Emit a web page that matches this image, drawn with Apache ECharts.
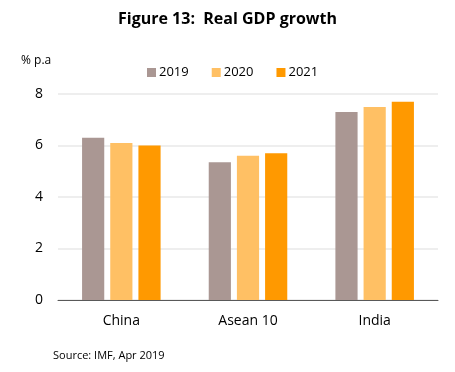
<!DOCTYPE html>
<html><head><meta charset="utf-8">
<script src="https://cdn.jsdelivr.net/npm/echarts@6/dist/echarts.min.js"></script>
<style>html,body{margin:0;padding:0;background:#fff}#c{width:455px;height:372px}</style>
</head><body><div id="c"></div>
<script>
var categories = ['China', 'Asean 10', 'India'];
var years = ['2019', '2020', '2021'];
var v2019 = [6.3, 5.35, 7.3];
var v2020 = [6.1, 5.6, 7.5];
var v2021 = [6.0, 5.7, 7.7];
var yTicks = [0, 2, 4, 6, 8];
var colors = ['#AA9793', '#FFC064', '#FF9900'];
var font = '"Open Sans", "Liberation Sans", sans-serif';
var chart = echarts.init(document.getElementById('c'));
var seriesData = [v2019, v2020, v2021];
chart.setOption({
  animation: false,
  title: [{
    text: 'Figure 13:  Real GDP growth', left: 'center', top: 6,
    textStyle: {fontFamily: font, fontWeight: 'bold', fontSize: 16, color: '#000'}
  }, {
    text: 'Source: IMF, Apr 2019', left: 48, top: 345,
    textStyle: {fontFamily: font, fontWeight: 'normal', fontSize: 11, color: '#000'}
  }, {
    text: '% p.a', left: 16, top: 50,
    textStyle: {fontFamily: font, fontWeight: 'normal', fontSize: 12, color: '#000'}
  }],
  legend: {
    top: 61, left: 142, itemWidth: 9, itemHeight: 9, itemGap: 23,
    icon: 'rect', data: years,
    textStyle: {fontFamily: font, fontSize: 13, color: '#000', padding: [0, 0, 0, -2]}
  },
  grid: {left: 58, right: 17, top: 94, bottom: 72},
  xAxis: {
    type: 'category', data: categories,
    axisLine: {lineStyle: {color: '#595959', width: 1}},
    axisTick: {show: false},
    axisLabel: {fontFamily: font, fontSize: 14, color: '#000', margin: 14}
  },
  yAxis: {
    type: 'value', min: yTicks[0], max: yTicks[yTicks.length - 1], interval: 2,
    axisLine: {show: false}, axisTick: {show: false},
    axisLabel: {fontFamily: font, fontSize: 14, color: '#000', margin: 15},
    splitLine: {lineStyle: {color: '#EEEEEE', width: 2}}
  },
  series: years.map(function (y, i) {
    return {
      name: y, type: 'bar', data: seriesData[i],
      itemStyle: {color: colors[i]},
      barGap: '27%', barCategoryGap: '38%'
    };
  })
});
</script></body></html>
